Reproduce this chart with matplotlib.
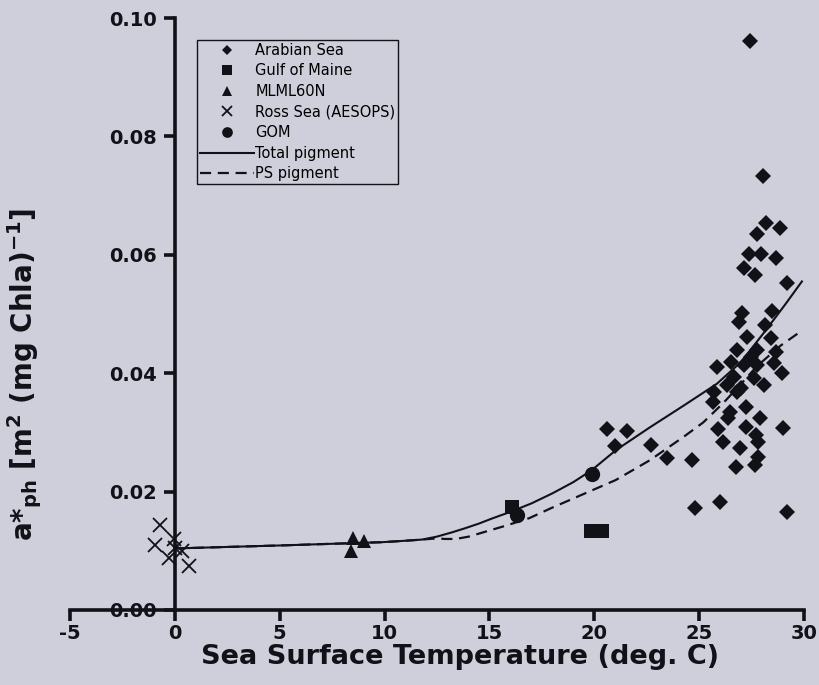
import matplotlib
matplotlib.use("Agg")
import matplotlib.pyplot as plt

plt.rcParams["font.family"] = ["DejaVu Sans"]
plt.rcParams["mathtext.fontset"] = "dejavusans"
plt.rcParams["mathtext.default"] = "bf"

# ---- data: sea surface temperature (deg C) vs chlorophyll-specific absorption ----
arabian_sst = [27.42, 28.06, 28.17, 28.84, 27.74, 27.39, 27.96, 28.68, 27.15, 27.67,
               29.19, 27.02, 26.92, 28.46, 28.12, 27.30, 28.44, 26.81, 27.77, 28.67,
               25.85, 26.52, 27.14, 27.76, 28.57, 28.95, 26.65, 27.61, 28.08, 25.69,
               26.98, 25.68, 27.21, 26.49, 26.39, 27.92, 27.24, 29.01, 25.91, 27.72,
               26.14, 27.81, 26.95, 27.80, 26.74, 27.65, 20.61, 21.57, 20.99, 22.70,
               23.46, 24.65, 24.81, 26.01, 29.20, 26.79, 27.45, 26.35]
arabian_a = [0.0961, 0.0733, 0.0653, 0.0645, 0.0635, 0.0601, 0.0601, 0.0594, 0.0578, 0.0566,
             0.0552, 0.0502, 0.0487, 0.0505, 0.0481, 0.0461, 0.0459, 0.0440, 0.0439, 0.0435,
             0.0411, 0.0419, 0.0414, 0.0414, 0.0417, 0.0400, 0.0394, 0.0392, 0.0380, 0.0369,
             0.0375, 0.0352, 0.0343, 0.0335, 0.0325, 0.0324, 0.0309, 0.0307, 0.0305, 0.0295,
             0.0284, 0.0284, 0.0274, 0.0258, 0.0242, 0.0245, 0.0305, 0.0302, 0.0277, 0.0279,
             0.0257, 0.0253, 0.0173, 0.0183, 0.0165, 0.0369, 0.0428, 0.0380]

maine_sst = [16.08, 19.86, 20.38]
maine_a = [0.0174, 0.0133, 0.0133]

mlml_sst = [8.50, 9.00, 8.40]
mlml_a = [0.0122, 0.0117, 0.0100]

ross_sst = [-0.72, -0.96, -0.06, -0.26, 0.32, 0.65, 0.00]
ross_a = [0.0144, 0.0110, 0.0120, 0.0088, 0.0100, 0.0074, 0.0105]

gom_sst = [16.32, 19.87]
gom_a = [0.0160, 0.0230]

total_sst = [0.0, 5.0, 9.86, 11.0, 11.8, 12.5, 13.2, 13.83, 14.5, 15.12, 15.94,
             17.0, 18.0, 19.0, 19.87, 21.03, 22.67, 24.25, 25.84, 27.0, 28.1, 29.08, 29.9]
total_a = [0.0104, 0.0109, 0.01145, 0.0117, 0.0119, 0.0124, 0.0131, 0.0138, 0.0146, 0.01545,
           0.0165, 0.0180, 0.0197, 0.0216, 0.0236, 0.0270, 0.0309, 0.0345, 0.0382, 0.0419,
           0.0469, 0.0515, 0.0555]

ps_sst = [0.0, 5.0, 9.86, 11.0, 11.8, 12.49, 12.87, 13.4, 14.02, 14.97, 15.74, 16.89, 18.0,
          19.43, 21.02, 22.65, 24.24, 25.2, 26.16, 27.0, 27.76, 28.9, 29.9]
ps_a = [0.0104, 0.0109, 0.01145, 0.0117, 0.0119, 0.0121, 0.0120, 0.0120, 0.0124, 0.0134,
        0.0142, 0.0155, 0.0173, 0.0195, 0.02195, 0.0253, 0.0292, 0.0317, 0.0350, 0.0382,
        0.0412, 0.0447, 0.0472]

x_ticks = [-5, 0, 5, 10, 15, 20, 25, 30]
y_ticks = [0.00, 0.02, 0.04, 0.06, 0.08, 0.10]
y_tick_labels = ["0.00", "0.02", "0.04", "0.06", "0.08", "0.10"]

# ---- figure ----
bg = "#cfcfdc"
ink = "#111118"
fig = plt.figure(figsize=(8.19, 6.85), dpi=100, facecolor=bg)
ax = fig.add_axes([0.0855, 0.1095, 0.8962, 0.8642])
ax.set_facecolor(bg)

ax.plot(total_sst, total_a, color=ink, lw=1.5, zorder=3, label="Total pigment",
        solid_joinstyle="round")
ax.plot(ps_sst, ps_a, color=ink, lw=1.6, ls=(0, (5, 3)), zorder=3, label="PS pigment")

ax.plot(arabian_sst, arabian_a, ls="none", marker="D", ms=7.8, color=ink, mew=0,
        zorder=4, label="Arabian Sea")
ax.plot(maine_sst, maine_a, ls="none", marker="s", ms=10.5, color=ink, mew=0,
        zorder=4, label="Gulf of Maine")
ax.plot(mlml_sst, mlml_a, ls="none", marker="^", ms=10, color=ink, mew=0,
        zorder=4, label="MLML60N")
ax.plot(ross_sst, ross_a, ls="none", marker="x", ms=10, color=ink, mew=1.3,
        zorder=4, label="Ross Sea (AESOPS)")
ax.plot(gom_sst, gom_a, ls="none", marker="o", ms=11, color=ink, mew=0,
        zorder=4, label="GOM")

ax.set_xlim(-5, 30)
ax.set_ylim(0, 0.10)
ax.spines["left"].set_position(("data", 0))
ax.spines["top"].set_visible(False)
ax.spines["right"].set_visible(False)
for side in ("left", "bottom"):
    ax.spines[side].set_linewidth(2.6)
    ax.spines[side].set_color(ink)
    ax.spines[side].set_capstyle("projecting")

ax.set_xticks(x_ticks)
ax.set_xticklabels([str(t) for t in x_ticks])
ax.set_yticks(y_ticks)
ax.set_yticklabels(y_tick_labels)
ax.tick_params(direction="out", length=8, width=2.6, color=ink, labelsize=14,
               labelcolor=ink)
ax.tick_params(axis="x", pad=2)
ax.tick_params(axis="y", pad=5)
for lbl in ax.get_xticklabels() + ax.get_yticklabels():
    lbl.set_fontweight("bold")

fig.text(460 / 819, 1 - 657 / 685, "Sea Surface Temperature (deg. C)", ha="center",
         va="center", fontsize=19.5, fontweight="bold", color=ink)
fig.text(25 / 819, 1 - 375 / 685, r"a*$_{ph}$ [m$^{2}$ (mg Chla)$^{-1}$]", ha="center",
         va="center", rotation=90, fontsize=20, fontweight="bold", color=ink)

handles, labels = ax.get_legend_handles_labels()
order = [2, 3, 4, 5, 6, 0, 1]
leg = ax.legend([handles[i] for i in order], [labels[i] for i in order],
                loc="upper left", bbox_to_anchor=(197 / 819, 1 - 40 / 685),
                bbox_transform=fig.transFigure, borderaxespad=0, fontsize=10.5,
                frameon=True, fancybox=False, edgecolor=ink, facecolor=bg,
                framealpha=1, handlelength=3.7, handletextpad=0.1, borderpad=0.2,
                labelspacing=0.38, markerscale=0.7)
leg.get_frame().set_linewidth(1.0)

fig.savefig("out.png", dpi=100, facecolor=bg)
